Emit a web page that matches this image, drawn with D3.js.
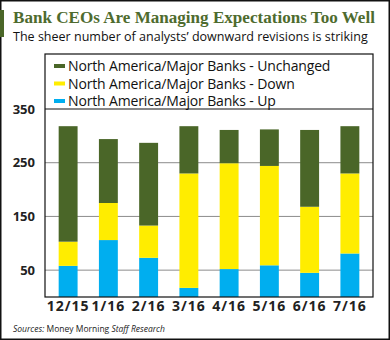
<!DOCTYPE html>
<html>
<head>
<meta charset="utf-8">
<script src="https://cdn.jsdelivr.net/npm/d3@7"></script>
<style>
  body { margin: 0; background: #fff; }
  svg { display: block; }
</style>
</head>
<body>
<div id="chart"></div>
<script>
// values
var months = ["12/15", "1/16", "2/16", "3/16", "4/16", "5/16", "6/16", "7/16"];
var up        = [58, 106, 73, 17, 52, 59, 45, 81];
var down      = [45, 69, 60, 213, 197, 185, 123, 149];
var unchanged = [215, 119, 154, 88, 62, 68, 143, 88];
var yTicks = [50, 150, 250, 350];
var seriesNames = ["North America/Major Banks - Unchanged", "North America/Major Banks - Down", "North America/Major Banks - Up"];

var colors = { up: "#00aeef", down: "#ffed00", unchanged: "#4a6628" };

var W = 390, H = 340;
var box = { left: 45, right: 373, legendTop: 54, top: 109, bottom: 297 };

var svg = d3.select("#chart").append("svg")
  .attr("width", W)
  .attr("height", H);

// shrink or grow a text's font until it is about as wide as in the picture
function fitWidth(sel, target) {
  var size = parseFloat(sel.style("font-size"));
  var w = sel.node().getComputedTextLength();
  sel.style("font-size", (size * target / w).toFixed(2) + "px");
}

// outer frame
svg.append("rect")
  .attr("x", 0.75).attr("y", 0.75)
  .attr("width", W - 1.5).attr("height", H - 1.5)
  .style("fill", "none").style("stroke", "#111").style("stroke-width", 1.5);

// green accent next to the title
svg.append("rect")
  .attr("x", 0).attr("y", 10).attr("width", 4).attr("height", 27)
  .style("fill", "#4a6628");

var title = svg.append("text")
  .attr("x", 13).attr("y", 23)
  .style("font-family", "Liberation Serif, serif")
  .style("font-weight", "bold")
  .style("font-size", "18px")
  .style("fill", "#4e6b2e")
  .text("Bank CEOs Are Managing Expectations Too Well");
fitWidth(title, 362);

var sub = svg.append("text")
  .attr("x", 13).attr("y", 41)
  .style("font-family", "Open Sans, sans-serif")
  .style("font-size", "14px")
  .style("fill", "#111")
  .text("The sheer number of analysts\u2019 downward revisions is striking");
fitWidth(sub, 355);

// scales
var x = d3.scaleBand()
  .domain(months)
  .range([48, 370])
  .paddingInner(0.53)
  .paddingOuter(0.265);

var y = d3.scaleLinear()
  .domain([0, 350])
  .range([box.bottom, box.top]);

// gridlines
svg.append("g")
  .selectAll("line")
  .data(yTicks.filter(function (d) { return d < 350; }))
  .enter()
  .append("line")
    .attr("x1", box.left).attr("x2", box.right)
    .attr("y1", function (d) { return y(d); })
    .attr("y2", function (d) { return y(d); })
    .style("stroke", "#8c8c8c").style("stroke-width", 1);

// stacked bars
var rows = months.map(function (m, i) {
  return { month: m, up: up[i], down: down[i], unchanged: unchanged[i] };
});
var stack = d3.stack().keys(["up", "down", "unchanged"]);
var layers = stack(rows);

svg.append("g")
  .selectAll("g")
  .data(layers)
  .enter()
  .append("g")
    .style("fill", function (d) { return colors[d.key]; })
  .selectAll("rect")
  .data(function (d) { return d; })
  .enter()
  .append("rect")
    .attr("x", function (d) { return x(d.data.month); })
    .attr("width", x.bandwidth())
    .attr("y", function (d) { return y(d[1]); })
    .attr("height", function (d) { return y(d[0]) - y(d[1]); });

// plot + legend frame
svg.append("rect")
  .attr("x", box.left).attr("y", box.legendTop)
  .attr("width", box.right - box.left).attr("height", box.bottom - box.legendTop)
  .style("fill", "none").style("stroke", "#111").style("stroke-width", 1.2);
svg.append("line")
  .attr("x1", box.left).attr("x2", box.right)
  .attr("y1", box.top).attr("y2", box.top)
  .style("stroke", "#111").style("stroke-width", 1.2);

// y axis labels
var yAxis = svg.append("g")
  .attr("transform", "translate(" + (box.left - 10) + ",0)")
  .call(d3.axisLeft(y).tickValues(yTicks).tickSize(0).tickPadding(0));
yAxis.select(".domain").remove();
yAxis.selectAll("text")
  .style("font-family", "Open Sans, sans-serif")
  .style("font-weight", "bold")
  .style("font-size", "13px")
  .style("fill", "#222");

// x axis labels
var xAxis = svg.append("g")
  .attr("transform", "translate(0," + box.bottom + ")")
  .call(d3.axisBottom(x).tickSize(0).tickPadding(4));
xAxis.select(".domain").remove();
xAxis.selectAll("text")
  .style("font-family", "Open Sans, sans-serif")
  .style("font-weight", "bold")
  .style("font-size", "14px")
  .style("letter-spacing", "1px")
  .style("fill", "#222");

// legend
var legendKeys = ["unchanged", "down", "up"];
var legend = svg.append("g")
  .selectAll("g")
  .data(legendKeys)
  .enter()
  .append("g")
    .attr("transform", function (d, i) { return "translate(54," + (66 + i * 17.5) + ")"; });
legend.append("rect")
  .attr("x", 0).attr("y", -2).attr("width", 11).attr("height", 4)
  .style("fill", function (d) { return colors[d]; });
legend.append("text")
  .attr("x", 14).attr("y", 5)
  .style("font-family", "Open Sans, sans-serif")
  .style("font-size", "14px")
  .style("letter-spacing", "-0.15px")
  .style("fill", "#111")
  .text(function (d, i) { return seriesNames[i]; });

// source line
var src = svg.append("text")
  .attr("x", 13).attr("y", 332)
  .style("font-family", "Open Sans, sans-serif")
  .style("font-size", "10px")
  .style("fill", "#222");
src.append("tspan").style("font-style", "italic").text("Sources: ");
src.append("tspan").text("Money Morning ");
src.append("tspan").style("font-style", "italic").text("Staff Research");
fitWidth(src, 152);
</script>
</body>
</html>
